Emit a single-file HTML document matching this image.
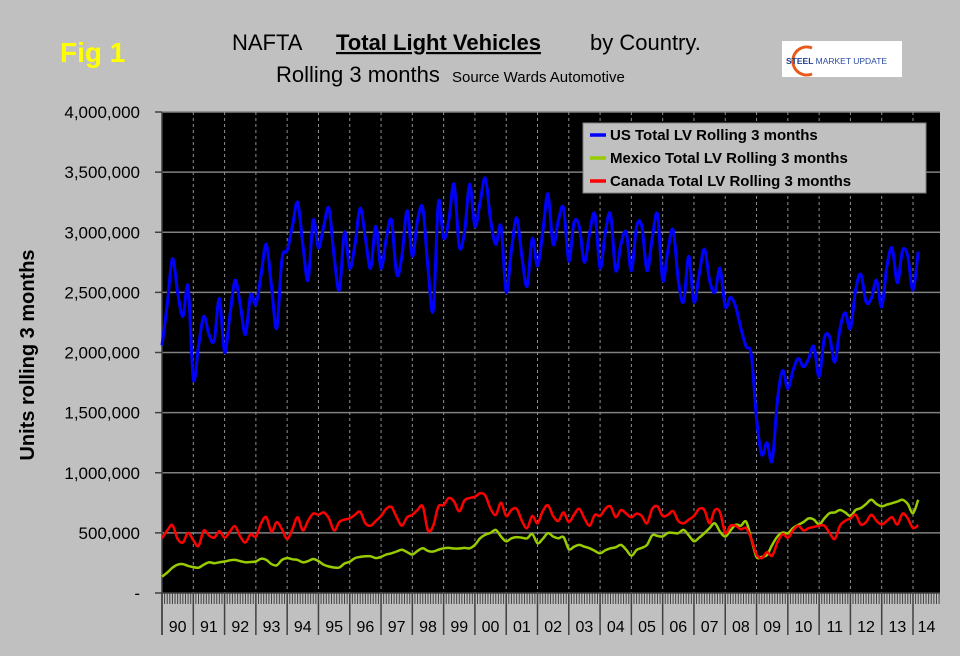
<!DOCTYPE html>
<html><head><meta charset="utf-8"><style>
body{margin:0;background:#c0c0c0;}
#wrap{position:relative;width:960px;height:656px;background:#c0c0c0;overflow:hidden;font-family:"Liberation Sans",sans-serif;}
</style></head><body>
<div id="wrap">
<svg id="chart" width="960" height="656" viewBox="0 0 960 656" xmlns="http://www.w3.org/2000/svg">
  <text x="60" y="62" font-size="28" font-weight="bold" fill="#ffff00" font-family="Liberation Sans, sans-serif">Fig 1</text>
  <text y="50" font-size="22" fill="#000" font-family="Liberation Sans, sans-serif"><tspan x="232">NAFTA</tspan><tspan x="336" font-weight="bold" text-decoration="underline">Total Light Vehicles</tspan><tspan x="590">by Country.</tspan></text>
  <text x="276" y="82" font-size="22" fill="#000" font-family="Liberation Sans, sans-serif">Rolling 3 months <tspan font-size="15" dx="6">Source Wards Automotive</tspan></text>
  <g>
    <rect x="782" y="41" width="120" height="36" fill="#fff"/>
    <path d="M812 48 A14 14 0 1 0 812 74" fill="none" stroke="#e85a1a" stroke-width="3"/>
    <text x="786" y="64" font-size="8.5" font-weight="bold" fill="#1f3f8f" font-family="Liberation Sans, sans-serif">STEEL <tspan font-weight="normal" fill="#2a4aa0">MARKET UPDATE</tspan></text>
  </g>
  <rect x="162" y="112" width="778" height="481" fill="#000"/>
  <g id="grid"></g>
  <g id="axes"></g>
  <g id="series"></g>
  <text transform="translate(34,355) rotate(-90)" text-anchor="middle" font-size="20" font-weight="bold" fill="#000" font-family="Liberation Sans, sans-serif">Units rolling 3 months</text>
  <g>
    <rect x="583" y="123" width="343" height="70" fill="#c0c0c0" stroke="#808080" stroke-width="1"/>
    <g><line x1="590" y1="135" x2="606" y2="135" stroke="#0000ff" stroke-width="3.5"/><text x="610" y="140" font-size="15" font-weight="bold" fill="#000">US Total LV Rolling 3 months</text></g>
    <g><line x1="590" y1="158" x2="606" y2="158" stroke="#99cc00" stroke-width="3.5"/><text x="610" y="163" font-size="15" font-weight="bold" fill="#000">Mexico Total LV Rolling 3 months</text></g>
    <g><line x1="590" y1="181" x2="606" y2="181" stroke="#ff0000" stroke-width="3.5"/><text x="610" y="186" font-size="15" font-weight="bold" fill="#000">Canada Total LV Rolling 3 months</text></g>
  </g>
</svg>
</div>
<script>
// Bimonthly samples (Jan, Mar, May, Jul, Sep, Nov) from Jan 1990, values in thousands of units
const yearLabels = ["90","91","92","93","94","95","96","97","98","99","00","01","02","03","04","05","06","07","08","09","10","11","12","13","14"];
const yTicks = [0,500000,1000000,1500000,2000000,2500000,3000000,3500000,4000000];
const yTickLabels = ["-","500,000","1,000,000","1,500,000","2,000,000","2,500,000","3,000,000","3,500,000","4,000,000"];
const usValues = [
2060,2400,2780,2500,2300,2550, 1780,2050,2300,2150,2100,2450, 2000,2300,2600,2400,2150,2480,
2400,2650,2900,2550,2200,2780, 2850,3050,3250,2900,2600,3100, 2870,3050,3200,2800,2520,3000,
2700,2900,3200,2950,2700,3050, 2700,2950,3100,2650,2800,3180, 2800,3100,3200,2700,2350,3250,
2950,3100,3400,2880,3000,3400, 3050,3250,3450,3100,2900,3050, 2500,2850,3120,2800,2550,2950,
2720,3000,3320,2900,3100,3200, 2760,3080,3050,2750,3000,3150, 2700,3000,3150,2680,2900,3000,
2680,3050,3050,2680,2950,3150, 2600,2850,3020,2600,2420,2800, 2420,2650,2860,2600,2500,2700,
2380,2460,2380,2200,2050,1980, 1450,1150,1250,1100,1600,1850, 1700,1850,1950,1880,1950,2050,
1800,2120,2130,1920,2200,2330, 2200,2520,2650,2420,2450,2600, 2380,2720,2870,2580,2850,2800,
2520,2840];
const mexicoValues = [
136,170,210,235,240,225, 215,210,235,255,248,255, 262,272,275,265,255,258,
262,285,275,240,230,275, 290,280,275,255,265,283, 265,235,220,212,212,245,
260,290,300,305,305,290, 300,320,330,345,360,340, 320,350,372,350,345,360,
372,375,370,370,375,372, 400,455,485,500,525,470, 430,455,465,460,455,490,
414,450,497,470,455,465, 365,385,400,385,372,350, 330,355,372,380,400,360,
310,358,375,400,480,475, 470,500,500,497,525,480, 430,460,497,540,580,510,
470,520,567,560,594,450, 300,300,317,400,470,503, 497,540,567,590,620,610,
570,620,664,670,690,670, 640,690,706,740,775,740, 720,735,747,760,775,740,
664,775];
const canadaValues = [
455,520,565,450,420,500, 440,390,520,480,460,515, 460,510,555,470,420,490,
470,580,630,510,590,530, 450,530,630,520,600,660, 650,670,620,520,590,610,
620,650,675,580,560,600, 640,700,715,630,560,630, 650,690,720,520,560,720,
730,790,760,680,770,790, 800,830,810,700,650,750, 640,690,700,600,540,640,
580,680,730,640,600,670, 590,650,700,620,560,650, 640,700,720,630,690,660,
630,660,640,580,700,720, 640,650,680,600,580,610, 640,700,690,580,690,670,
500,560,560,530,540,450, 320,290,340,310,420,490, 460,520,560,520,540,550,
560,560,500,450,560,600, 620,650,570,590,650,600, 570,600,630,570,660,620,
540,565];

const NS = "http://www.w3.org/2000/svg";
const PX0 = 162, PX1 = 940, PY0 = 112, PY1 = 593;
const YEAR_W = (913 - 162) / 24;
function xMonth(m){ return PX0 + m * YEAR_W / 12; }
function yVal(v){ return PY1 - v / 4000000 * (PY1 - PY0); }
function mk(tag, attrs, parent){ const e = document.createElementNS(NS, tag); for (const k in attrs) e.setAttribute(k, attrs[k]); parent.appendChild(e); return e; }

const grid = document.getElementById('grid');
const axes = document.getElementById('axes');
const series = document.getElementById('series');

yTicks.forEach((t, i) => {
  const y = yVal(t);
  if (t > 0) {
    const gl = mk('line', {x1: PX0, x2: PX1, y1: y, y2: y, stroke: '#808080', 'stroke-width': 1.5}, grid);
    
    
  }
  const tk = mk('line', {x1: 155, x2: PX0, y1: y, y2: y, stroke: '#404040', 'stroke-width': 1.5}, axes);
  
  
  const lb = mk('text', {x: 140, y: y + 6, 'text-anchor': 'end', 'font-size': 17, fill: '#000', 'font-family': 'Liberation Sans, sans-serif'}, axes);
  lb.textContent = yTickLabels[i];
  
  
});

const totalMonths = Math.round((PX1 - PX0) / YEAR_W * 12);
for (let m = 0; m <= totalMonths; m++) {
  const x = xMonth(m);
  const mt = mk('line', {x1: x, x2: x, y1: PY1, y2: 604, stroke: '#404040', 'stroke-width': 1}, axes);
  
  
}
yearLabels.forEach((lbl, i) => {
  const x = xMonth(i * 12);
  if (i > 0) {
    const vg = mk('line', {x1: x, x2: x, y1: PY0, y2: PY1, stroke: '#909090', 'stroke-width': 1, 'stroke-dasharray': '3,3'}, grid);
    
    
  }
  const yl = mk('line', {x1: x, x2: x, y1: PY1, y2: 635, stroke: '#404040', 'stroke-width': 1.5}, axes);
  
  
  const xe = Math.min(xMonth((i + 1) * 12), PX1);
  const t = mk('text', {x: (x + xe) / 2, y: 632, 'text-anchor': 'middle', 'font-size': 16, fill: '#000', 'font-family': 'Liberation Sans, sans-serif'}, axes);
  t.textContent = lbl;
  
  
});
const ax = mk('line', {x1: PX0, x2: PX1, y1: PY1, y2: PY1, stroke: '#404040', 'stroke-width': 1.5}, axes);


const ay = mk('line', {x1: PX0, x2: PX0, y1: PY0, y2: 635, stroke: '#404040', 'stroke-width': 1.5}, axes);



function smoothPath(vals){
  const pts = vals.map((v, i) => [xMonth(i * 2), yVal(v * 1000)]);
  let d = 'M' + pts[0][0].toFixed(1) + ' ' + pts[0][1].toFixed(1);
  for (let i = 0; i < pts.length - 1; i++) {
    const p0 = pts[Math.max(0, i - 1)], p1 = pts[i], p2 = pts[i + 1], p3 = pts[Math.min(pts.length - 1, i + 2)];
    const c1x = p1[0] + (p2[0] - p0[0]) / 6, c1y = p1[1] + (p2[1] - p0[1]) / 6;
    const c2x = p2[0] - (p3[0] - p1[0]) / 6, c2y = p2[1] - (p3[1] - p1[1]) / 6;
    d += ' C' + c1x.toFixed(1) + ' ' + c1y.toFixed(1) + ' ' + c2x.toFixed(1) + ' ' + c2y.toFixed(1) + ' ' + p2[0].toFixed(1) + ' ' + p2[1].toFixed(1);
  }
  return d;
}
const mx = mk('path', {d: smoothPath(mexicoValues), fill: 'none', stroke: '#99cc00', 'stroke-width': 2.5, 'stroke-linejoin': 'round'}, series);


const ca = mk('path', {d: smoothPath(canadaValues), fill: 'none', stroke: '#ff0000', 'stroke-width': 2.5, 'stroke-linejoin': 'round'}, series);


const us = mk('path', {d: smoothPath(usValues), fill: 'none', stroke: '#0000ff', 'stroke-width': 3, 'stroke-linejoin': 'round'}, series);


</script>
</body></html>
